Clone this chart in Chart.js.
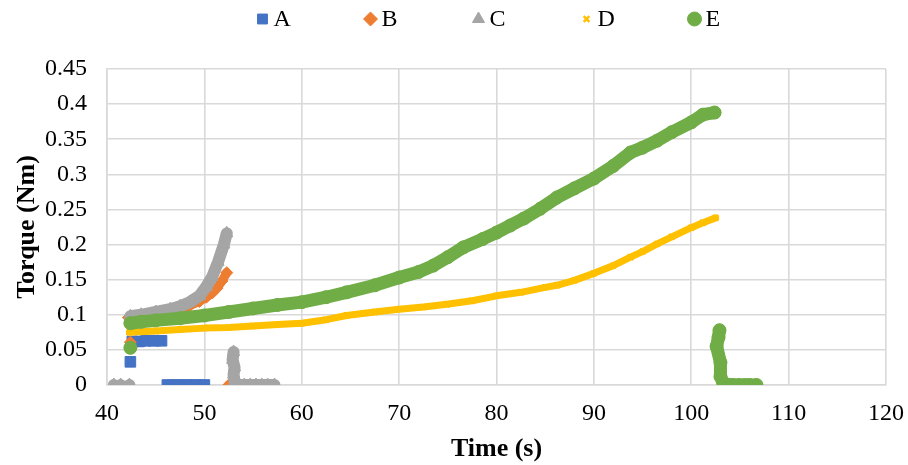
<!DOCTYPE html>
<html>
<head>
<meta charset="utf-8">
<script src="https://cdn.jsdelivr.net/npm/chart.js@4.4.1/dist/chart.umd.min.js"></script>
<style>
  html, body { margin: 0; padding: 0; background: #fff; }
  #wrap { width: 908px; height: 465px; }
</style>
</head>
<body>
<div id="wrap"><canvas id="torqueChart" width="908" height="465"></canvas></div>
<script>
// Torque logs per run, null marks a break between separate groups of samples
const aTime   = [42.4, null, 42.6, 43.3, 44.0, 44.8, 45.6, null, 46.2, 47.2, 48.2, 49.1, 50.0];
const aTorque = [0.033, null, 0.062, 0.062, 0.063, 0.063, 0.063, null, 0, 0, 0, 0, 0];

const bTime   = [42.4, null, 42.2, 43.5, 45, 46.5, 47.5, 48.5, 49.5, 50.2, 50.8, 51.3, 51.8, 52.3, null, 52.5, 53.5, 54.5, 55.5, 56.6];
const bTorque = [0.061, null, 0.096, 0.098, 0.101, 0.104, 0.108, 0.113, 0.119, 0.125, 0.131, 0.138, 0.148, 0.160, null, 0, 0, 0, 0, 0];

const cTime   = [40.7, null, 41.4, null, 42.3, null, 42.4, 43.5, 45, 46.5, 47.5, 48.5, 49.5, 50.2, 50.8, 51.4, 52.0, 52.3, null,
                 53.0, 52.9, 53.1, 53.0, 53.1, 53.5, 54.1, 54.7, 55.3, 55.9, 56.5, 57.2];
const cTorque = [0, null, 0, null, 0, null, 0.098, 0.100, 0.104, 0.108, 0.112, 0.118, 0.127, 0.140, 0.154, 0.175, 0.200, 0.216, null,
                 0.047, 0.036, 0.025, 0.015, 0.005, 0, 0, 0, 0, 0, 0, 0];

const dTime   = [42.3, 45, 47.5, 50, 52.5, 55, 57.5, 60, 62.5, 64.6, 67.5, 70, 72.5, 74.9, 77.5, 80, 82.5, 85, 86.2, 88,
                 90, 92, 93.75, 95, 96.5, 98, 100, 101.2, 102.5, null, 102.7, 102.7, 102.8];
const dTorque = [0.075, 0.077, 0.079, 0.081, 0.082, 0.084, 0.086, 0.088, 0.093, 0.099, 0.104, 0.108, 0.111, 0.115, 0.120, 0.127, 0.132, 0.139, 0.142, 0.149,
                 0.159, 0.170, 0.182, 0.190, 0.201, 0.211, 0.224, 0.231, 0.238, null, 0.037, 0.028, 0.020];

const eTime   = [42.4, null, 42.4, 43.5, 45, 47.5, 50, 52.5, 55, 57.5, 60, 62.5, 64.6, 67.5, 70, 72, 73.5, 75, 76.6, 78.6,
                 80, 81.4, 82.8, 84.5, 86.2, 88, 90, 92, 93.75, 95, 96.5, 98, 100, 101.2, 102.4, null,
                 102.9, 102.8, 102.6, 103.0, 103.0, 103.3, 104.3, 104.9, 105.5, 106.0, 106.7];
const eTorque = [0.053, null, 0.088, 0.090, 0.092, 0.095, 0.099, 0.104, 0.109, 0.114, 0.118, 0.125, 0.132, 0.142, 0.153, 0.161, 0.170, 0.182, 0.196, 0.208,
                 0.217, 0.227, 0.237, 0.251, 0.267, 0.280, 0.294, 0.312, 0.331, 0.338, 0.348, 0.360, 0.374, 0.385, 0.388, null,
                 0.078, 0.068, 0.055, 0.032, 0.012, 0.002, 0, 0, 0, 0, 0];

const seriesNames = ['A', 'B', 'C', 'D', 'E'];
const xTicks = [40, 50, 60, 70, 80, 90, 100, 110, 120];
const yTicks = [0, 0.05, 0.1, 0.15, 0.2, 0.25, 0.3, 0.35, 0.4, 0.45];

const SERIF = "'Liberation Serif', 'Times New Roman', serif";

function toPoints(xs, ys) {
    return xs.map((x, i) => ({ x: x, y: ys[i] }));
}

function makeSeries(label, xs, ys, color, style, radius, lineWidth, cap, order) {
    return {
        label: label,
        data: toPoints(xs, ys),
        showLine: true,
        spanGaps: false,
        borderColor: color,
        backgroundColor: color,
        borderWidth: lineWidth,
        borderCapStyle: cap,
        borderJoinStyle: 'round',
        pointStyle: style,
        pointRadius: radius,
        pointHoverRadius: radius,
        pointBackgroundColor: color,
        pointBorderColor: color,
        pointBorderWidth: style === 'crossRot' ? 2.5 : 1,
        order: order
    };
}

// later series are painted over earlier ones
const datasets = [
    makeSeries(seriesNames[0], aTime, aTorque, '#4472C4', 'rect', 7.5, 11, 'butt', 5),
    makeSeries(seriesNames[1], bTime, bTorque, '#ED7D31', 'rectRot', 6, 9, 'round', 4),
    makeSeries(seriesNames[2], cTime, cTorque, '#A5A5A5', 'triangle', 7, 12, 'round', 3),
    makeSeries(seriesNames[3], dTime, dTorque, '#FFC000', 'crossRot', 4, 7, 'round', 2),
    makeSeries(seriesNames[4], eTime, eTorque, '#70AD47', 'circle', 6.5, 13, 'round', 1)
];

// legend row across the top, spaced evenly over the plot area
const topLegend = {
    id: 'topLegend',
    afterDraw(chart) {
        const ctx = chart.ctx;
        const area = chart.chartArea;
        const mid = (area.left + area.right) / 2;
        const step = 108;
        const y = 19;
        ctx.save();
        ctx.font = '24px ' + SERIF;
        ctx.textBaseline = 'middle';
        ctx.textAlign = 'left';
        chart.data.datasets.forEach((ds, i) => {
            const cx = mid - 18 + (i - 2) * step;
            ctx.fillStyle = ds.pointBackgroundColor;
            ctx.strokeStyle = ds.pointBorderColor;
            ctx.lineWidth = ds.pointBorderWidth;
            Chart.helpers.drawPoint(ctx, {
                pointStyle: ds.pointStyle,
                radius: ds.pointStyle === 'crossRot' ? 4 : 7,
                borderWidth: ds.pointBorderWidth
            }, cx, y);
            ctx.fillStyle = '#000';
            ctx.fillText(ds.label, cx + 11, y + 1);
        });
        ctx.restore();
    }
};

Chart.defaults.font.family = SERIF;
Chart.defaults.color = '#000';

const ctx = document.getElementById('torqueChart');
const chart = new Chart(ctx, {
    type: 'scatter',
    data: { datasets: datasets },
    options: {
        responsive: false,
        animation: false,
        events: [],
        layout: { padding: { top: 69, right: 0, left: 0, bottom: 0 } },
        plugins: {
            legend: { display: false },
            tooltip: { enabled: false }
        },
        scales: {
            x: {
                type: 'linear',
                min: 40,
                max: 120,
                afterBuildTicks(scale) {
                    scale.ticks = xTicks.map(v => ({ value: v }));
                },
                afterFit(scale) {
                    scale.height = 80;
                    // keep a fixed gap on the right for the last tick label
                    scale.paddingRight = 22;
                },
                ticks: {
                    font: { size: 24, family: SERIF },
                    color: '#000',
                    padding: 14,
                    maxRotation: 0
                },
                grid: { color: '#d9d9d9', lineWidth: 1.6, drawTicks: false },
                border: { color: '#d9d9d9', width: 1.6 },
                title: {
                    display: true,
                    text: 'Time (s)',
                    font: { size: 26, weight: 'bold', family: SERIF },
                    color: '#000',
                    padding: { top: 0, bottom: 0 }
                }
            },
            y: {
                type: 'linear',
                min: 0,
                max: 0.45,
                afterBuildTicks(scale) {
                    scale.ticks = yTicks.map(v => ({ value: v }));
                },
                afterFit(scale) {
                    scale.width = 107;
                },
                ticks: {
                    font: { size: 24, family: SERIF },
                    color: '#000',
                    padding: 20,
                    callback: v => String(Number(v.toFixed(2)))
                },
                grid: { color: '#d9d9d9', lineWidth: 1.6, drawTicks: false },
                border: { color: '#d9d9d9', width: 1.6 },
                title: {
                    display: true,
                    text: 'Torque (Nm)',
                    font: { size: 26, weight: 'bold', family: SERIF },
                    color: '#000',
                    padding: { top: 12, bottom: 0 }
                }
            }
        }
    },
    plugins: [topLegend]
});
</script>
</body>
</html>
